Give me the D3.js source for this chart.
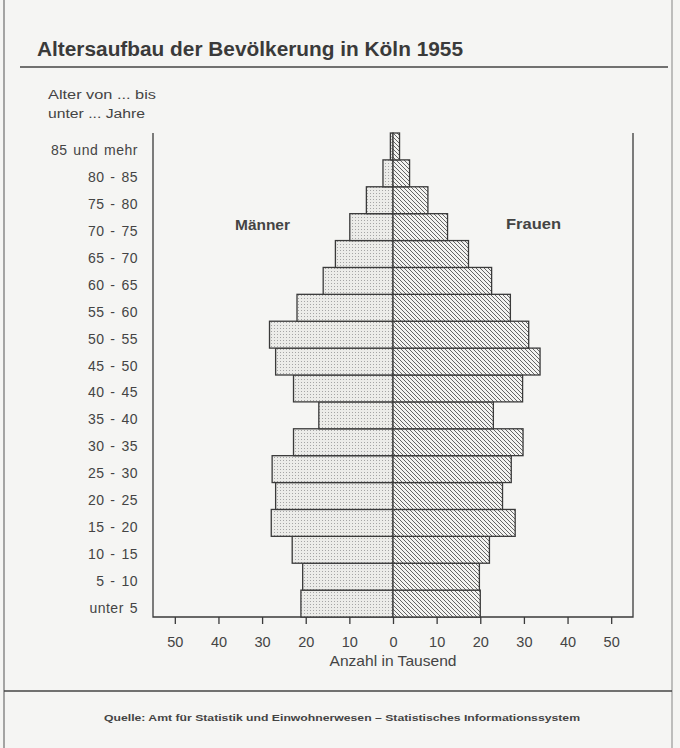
<!DOCTYPE html>
<html>
<head>
<meta charset="utf-8">
<script src="https://cdn.jsdelivr.net/npm/d3@7"></script>
<style>
  html, body { margin: 0; padding: 0; background: #f5f5f3; }
  svg { display: block; font-family: "Liberation Sans", Arial, sans-serif; }
</style>
</head>
<body>
<div id="chart"></div>
<script>
// Altersgruppen, von unten nach oben
const ages = ["unter 5", "5 - 10", "10 - 15", "15 - 20", "20 - 25", "25 - 30",
  "30 - 35", "35 - 40", "40 - 45", "45 - 50", "50 - 55", "55 - 60",
  "60 - 65", "65 - 70", "70 - 75", "75 - 80", "80 - 85", "85 und mehr"];
// Anzahl in Tausend
const maenner = [21.1, 20.7, 23.1, 27.9, 26.9, 27.7, 22.8, 17.0, 22.8, 26.9,
  28.3, 22.0, 16.0, 13.2, 9.9, 6.1, 2.3, 0.6];
const frauen = [20.0, 19.8, 22.1, 28.0, 25.1, 27.1, 29.8, 23.0, 29.7, 33.7,
  31.1, 26.9, 22.6, 17.3, 12.5, 8.0, 3.8, 1.5];
const xTicks = [-50, -40, -30, -20, -10, 0, 10, 20, 30, 40, 50];

const width = 680, height = 748;
const ink = "#3a3a3a";

const svg = d3.select("#chart")
  .append("svg")
  .attr("width", width)
  .attr("height", height);

// patterns
const defs = svg.append("defs");
const dots = defs.append("pattern")
  .attr("id", "dots")
  .attr("patternUnits", "userSpaceOnUse")
  .attr("width", 3).attr("height", 3);
dots.append("rect").attr("width", 3).attr("height", 3).attr("fill", "#ecece9");
dots.append("rect").attr("x", 1).attr("y", 1).attr("width", 1).attr("height", 1).attr("fill", "#a5a5a5");

const hatch = defs.append("pattern")
  .attr("id", "hatch")
  .attr("patternUnits", "userSpaceOnUse")
  .attr("width", 4).attr("height", 4);
hatch.append("rect").attr("width", 4).attr("height", 4).attr("fill", "#f3f3f1");
hatch.append("path")
  .attr("d", "M-1,-1 L5,5 M-1,3 L1,5 M3,-1 L5,1")
  .attr("stroke", "#555")
  .attr("stroke-width", 0.9);

// page borders
svg.append("line").attr("x1", 4).attr("x2", 4).attr("y1", 0).attr("y2", height)
  .attr("stroke", "#888").attr("stroke-width", 1.5);
svg.append("line").attr("x1", 672).attr("x2", 672).attr("y1", 0).attr("y2", height)
  .attr("stroke", "#aaa").attr("stroke-width", 1.5);

// title
svg.append("text")
  .attr("x", 37).attr("y", 56)
  .attr("font-size", 19.5).attr("font-weight", "bold")
  .attr("fill", ink)
  .attr("textLength", 426).attr("lengthAdjust", "spacingAndGlyphs")
  .text("Altersaufbau der Bevölkerung in Köln 1955");
svg.append("line").attr("x1", 20).attr("x2", 668).attr("y1", 67).attr("y2", 67)
  .attr("stroke", "#444").attr("stroke-width", 1.5);

svg.append("text").attr("x", 48).attr("y", 99).attr("font-size", 12).attr("fill", "#444")
  .attr("textLength", 108).attr("lengthAdjust", "spacingAndGlyphs")
  .text("Alter von ... bis");
svg.append("text").attr("x", 48).attr("y", 118).attr("font-size", 12).attr("fill", "#444")
  .attr("textLength", 97).attr("lengthAdjust", "spacingAndGlyphs")
  .text("unter ... Jahre");

// scales
const x = d3.scaleLinear().domain([-55, 55]).range([153, 633]);
const y = d3.scaleBand().domain(ages).range([617, 133]).padding(0);

// frame: left, right, bottom
const g = svg.append("g");
g.append("path")
  .attr("d", `M${x(-55)},${y.range()[1]} V${y.range()[0]} H${x(55)} V${y.range()[1]}`)
  .attr("fill", "none").attr("stroke", ink).attr("stroke-width", 1.3);

// bars
g.selectAll(".m")
  .data(ages)
  .enter().append("rect")
  .attr("class", "m")
  .attr("x", (d, i) => x(-maenner[i]))
  .attr("y", d => y(d))
  .attr("width", (d, i) => x(0) - x(-maenner[i]))
  .attr("height", y.bandwidth())
  .attr("fill", "url(#dots)")
  .attr("stroke", ink).attr("stroke-width", 1.3);

g.selectAll(".f")
  .data(ages)
  .enter().append("rect")
  .attr("class", "f")
  .attr("x", x(0))
  .attr("y", d => y(d))
  .attr("width", (d, i) => x(frauen[i]) - x(0))
  .attr("height", y.bandwidth())
  .attr("fill", "url(#hatch)")
  .attr("stroke", ink).attr("stroke-width", 1.3);

// age labels
g.selectAll(".age")
  .data(ages)
  .enter().append("text")
  .attr("x", 138)
  .attr("y", d => y(d) + y.bandwidth() / 2 + 9)
  .attr("text-anchor", "end")
  .attr("font-size", 14).attr("fill", "#444")
  .attr("letter-spacing", 0.5).attr("word-spacing", 1.5)
  .text(d => d);

// x axis
const xAxis = d3.axisBottom(x)
  .tickValues(xTicks)
  .tickFormat(d => Math.abs(d))
  .tickSize(7)
  .tickPadding(13);
const ax = svg.append("g")
  .attr("transform", "translate(0,617)")
  .call(xAxis);
ax.select(".domain").remove();
ax.selectAll("line").attr("stroke", ink).attr("stroke-width", 1.3);
ax.selectAll("text").attr("font-size", 14.5).attr("fill", "#444")
  .attr("font-family", "Liberation Sans, Arial, sans-serif");

svg.append("text")
  .attr("x", x(0)).attr("y", 666)
  .attr("text-anchor", "middle")
  .attr("font-size", 14.5).attr("fill", "#444")
  .attr("textLength", 127).attr("lengthAdjust", "spacingAndGlyphs")
  .text("Anzahl in Tausend");

// series labels
svg.append("text").attr("x", 235).attr("y", 230)
  .attr("font-size", 14).attr("font-weight", "bold").attr("fill", "#444")
  .attr("textLength", 55).attr("lengthAdjust", "spacingAndGlyphs")
  .text("Männer");
svg.append("text").attr("x", 506).attr("y", 229)
  .attr("font-size", 14).attr("font-weight", "bold").attr("fill", "#444")
  .attr("textLength", 55).attr("lengthAdjust", "spacingAndGlyphs")
  .text("Frauen");

// footer
svg.append("line").attr("x1", 4).attr("x2", 672).attr("y1", 691).attr("y2", 691)
  .attr("stroke", "#444").attr("stroke-width", 1.5);
svg.append("text")
  .attr("x", 342).attr("y", 721)
  .attr("text-anchor", "middle")
  .attr("font-size", 9.5).attr("font-weight", "bold").attr("fill", "#444")
  .attr("textLength", 476).attr("lengthAdjust", "spacingAndGlyphs")
  .text("Quelle: Amt für Statistik und Einwohnerwesen – Statistisches Informationssystem");
</script>
</body>
</html>
